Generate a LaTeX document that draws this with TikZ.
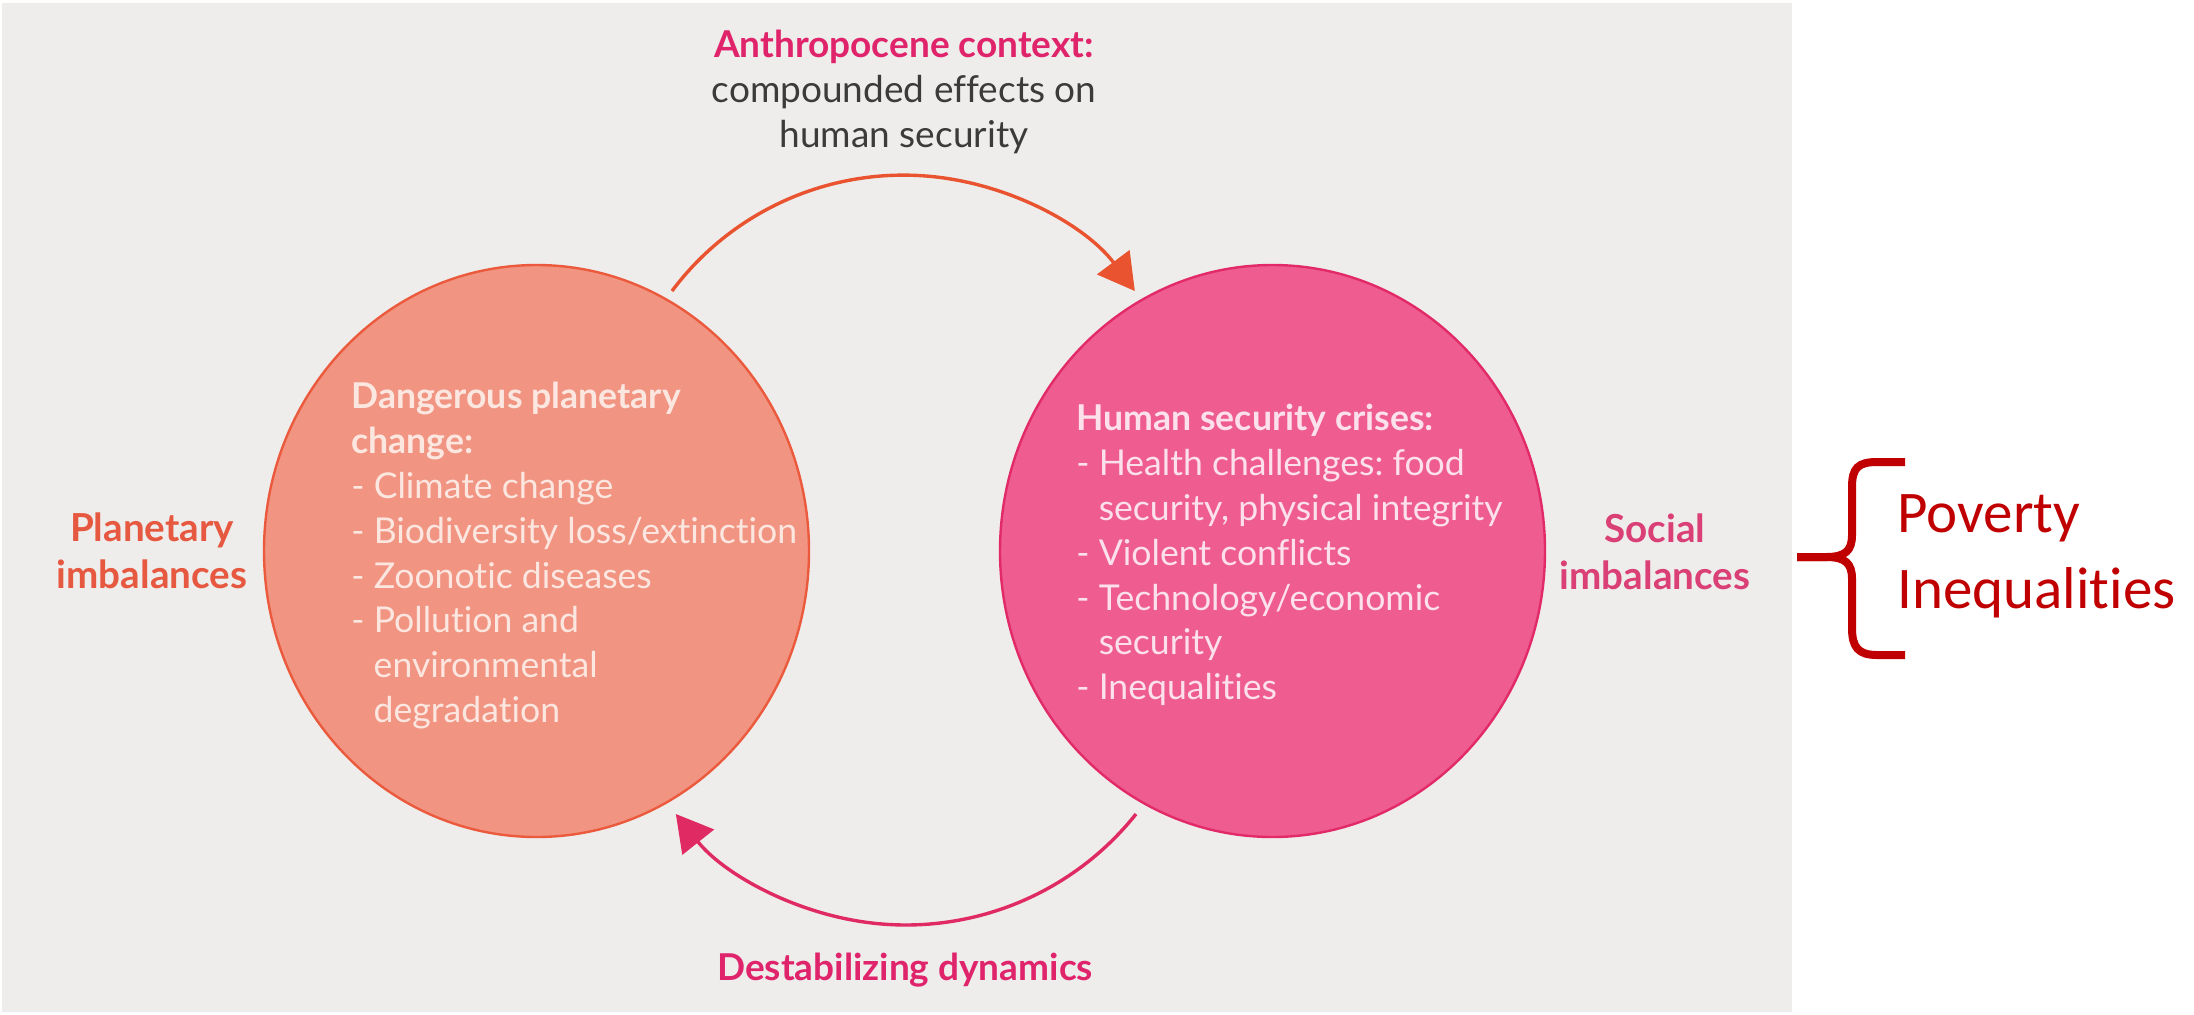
\documentclass[tikz,border=0pt]{standalone}
\usepackage{fontspec}
\setmainfont{Lato}[Ligatures=NoCommon]
\newfontfamily\calibri{Carlito}[Ligatures=NoCommon]
\usetikzlibrary{arrows.meta,shapes.geometric}
\definecolor{bgc}{HTML}{EEEDEB}
\definecolor{lfill}{HTML}{F19482}
\definecolor{ldraw}{HTML}{EB5A3C}
\definecolor{rfill}{HTML}{EE5C90}
\definecolor{rdraw}{HTML}{E22A68}
\definecolor{toparc}{HTML}{E9532F}
\definecolor{botarc}{HTML}{E02A64}
\definecolor{plan}{HTML}{E6583F}
\definecolor{soc}{HTML}{DA3F75}
\definecolor{mag}{HTML}{E0246B}
\definecolor{darktxt}{HTML}{3B3B3B}
\definecolor{ltxt}{HTML}{FCE6E0}
\definecolor{rtxt}{HTML}{FCE0EA}
\definecolor{povred}{HTML}{C00000}
\tikzset{
  bigcircle/.style={ellipse, inner sep=0pt, minimum width=272.5pt, minimum height=286pt, line width=1.2pt},
  intext/.style={align=left, inner sep=0pt, anchor=north west, font=\frenchspacing\fontsize{17.8}{22.4}\selectfont},
  sidelabel/.style={align=center, inner sep=0pt, font=\bfseries\fontsize{19.3}{23.5}\selectfont},
  arcline/.style={line width=1.7pt, -{Triangle[length=18pt,width=20pt]}},
  bracepath/.style={line width=4pt, draw=povred, line cap=butt, line join=round},
  povtext/.style={inner sep=0pt, anchor=base west, text=povred, font=\calibri\fontsize{29.5}{36}\selectfont}
}
\begin{document}
\begin{tikzpicture}[x=0.5pt,y=-0.5pt]
\useasboundingbox (0,0) rectangle (2194,1014);
\fill[white] (0,0) rectangle (2194,1014);
\fill[bgc] (2,3) rectangle (1792,1012);

% circles
\node[bigcircle, fill=lfill, draw=ldraw] (L) at (536.5,551) {};
\node[bigcircle, fill=rfill, draw=rdraw] (R) at (1272.5,551) {};

% circle texts
\node[intext, text=ltxt] (Ltext) at (351,382) {\textbf{Dangerous planetary}\\\textbf{change:}\\- Climate change\\- Biodiversity loss/extinction\\- Zoonotic diseases\\- Pollution and\\\hphantom{- }environmental\\\hphantom{- }degradation};
\node[intext, text=rtxt] (Rtext) at (1076,404) {\textbf{Human security crises:}\\- Health challenges: food\\\hphantom{- }security, physical integrity\\- Violent conflicts\\- Technology/economic\\\hphantom{- }security\\- Inequalities};

% side labels
\node[sidelabel, text=plan] (plabel) at (152,551) {Planetary\\imbalances};
\node[sidelabel, text=soc] (slabel) at (1655,552) {Social\\imbalances};

% top label
\node[align=center, inner sep=0pt, font=\fontsize{18.5}{22.5}\selectfont, text=darktxt] (ctx) at (904,92) {\textcolor{mag}{\bfseries Anthropocene context:}\\compounded effects on\\human security};

% bottom label
\node[inner sep=0pt, font=\bfseries\fontsize{18.5}{22.5}\selectfont, text=mag] (dyn) at (905,970) {Destabilizing dynamics};

% arcs
\coordinate (ts) at (672,291);
\coordinate (bs) at (1136,814);
\draw[arcline, draw=toparc] (ts) arc[start angle=143.2, end angle=36.8, radius=144.5pt] coordinate (te);
\draw[arcline, draw=botarc] (bs) arc[start angle=-38.5, end angle=-141.5, radius=147pt] coordinate (be);

% brace
\draw[bracepath] (1905,462) -- (1877,462) .. controls (1858,462) and (1852,468) .. (1852,487) -- (1852,535) .. controls (1852,551) and (1845,557) .. (1826,557) -- (1797,557);
\draw[bracepath] (1797,557) -- (1826,557) .. controls (1845,557) and (1852,563) .. (1852,579) -- (1852,628) .. controls (1852,647) and (1858,655) .. (1877,655) -- (1905,655);

% poverty texts
\node[povtext] (pov) at (1897,532) {Poverty};
\node[povtext] (ineq) at (1897,608) {Inequalities};
\end{tikzpicture}
\end{document}
